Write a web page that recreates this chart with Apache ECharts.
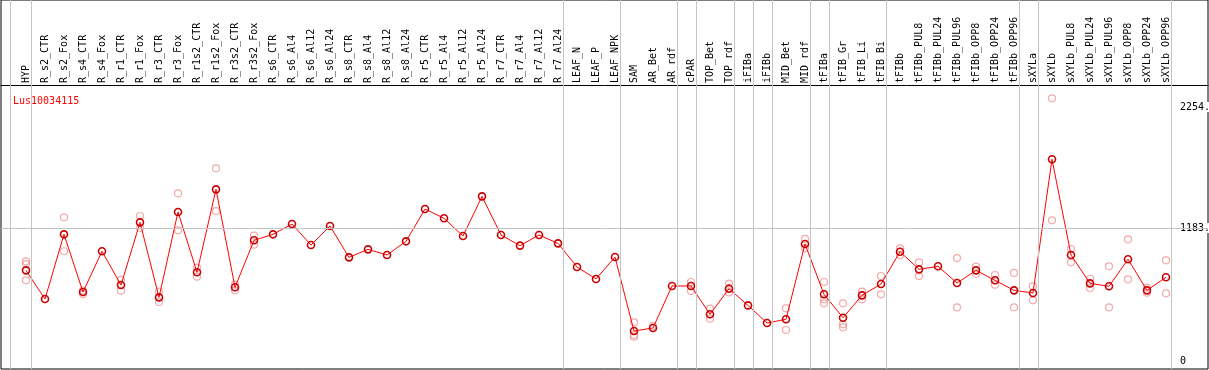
<!DOCTYPE html>
<html>
<head>
<meta charset="utf-8">
<script src="https://cdn.jsdelivr.net/npm/echarts@6/dist/echarts.min.js"></script>
<style>
html, body {margin:0; padding:0; background:#fff;}
#chart {width:1209px; height:370px;}
</style>
</head>
<body>
<div id="chart"></div>
<script>
var geneName = "Lus10034115";
var categories = ["HYP","R_s2_CTR","R_s2_Fox","R_s4_CTR","R_s4_Fox","R_r1_CTR","R_r1_Fox","R_r3_CTR","R_r3_Fox",
	"R_r1s2_CTR","R_r1s2_Fox","R_r3s2_CTR","R_r3s2_Fox","R_s6_CTR","R_s6_Al4","R_s6_Al12","R_s6_Al24",
	"R_s8_CTR","R_s8_Al4","R_s8_Al12","R_s8_Al24","R_r5_CTR","R_r5_Al4","R_r5_Al12","R_r5_Al24",
	"R_r7_CTR","R_r7_Al4","R_r7_Al12","R_r7_Al24","LEAF_N","LEAF_P","LEAF_NPK","SAM","AR_Bet","AR_rdf",
	"cPAR","TOP_Bet","TOP_rdf","iFIBa","iFIBb","MID_Bet","MID_rdf","tFIBa","tFIB_Gr","tFIB_Li","tFIB_Bi",
	"tFIBb","tFIBb_PUL8","tFIBb_PUL24","tFIBb_PUL96","tFIBb_OPP8","tFIBb_OPP24","tFIBb_OPP96",
	"sXYLa","sXYLb","sXYLb_PUL8","sXYLb_PUL24","sXYLb_PUL96","sXYLb_OPP8","sXYLb_OPP24","sXYLb_OPP96"];
// mean expression per sample
var meanValues = [808,554,1127,616,977,678,1233,569,1325,
	791,1525,658,1074,1127,1218,1032,1201,
	923,994,944,1065,1351,1269,1112,1463,
	1121,1027,1121,1047,838,732,926,271,298,670,
	670,419,646,498,342,375,1041,596,389,587,687,
	973,817,844,696,808,720,631,
	608,1791,944,693,667,906,631,747];
// replicates (null = hidden behind the mean)
var rep1 = [888,null,1278,598,null,723,1289,619,1490,
	832,1711,681,1115,null,null,null,null,
	null,null,null,null,null,null,null,null,
	null,null,null,null,null,null,null,348,315,null,
	705,469,690,null,null,472,1086,705,516,619,758,
	1003,879,null,917,841,767,785,
	667,2331,997,734,844,1083,655,897];
var rep2 = [864,null,977,630,null,628,1183,528,1162,
	752,1333,631,1035,null,null,null,null,
	null,null,null,null,null,null,null,null,
	null,null,null,null,null,null,null,221,null,null,
	625,380,613,null,null,280,1003,552,330,552,596,
	944,758,null,481,776,681,481,
	543,1251,879,652,481,729,610,605];
var rep3 = [720,null,null,null,null,null,null,null,null,
	null,null,null,null,null,null,null,null,
	null,null,null,null,null,null,null,null,
	null,null,null,null,null,null,null,236,null,null,
	null,null,null,null,null,null,null,516,304,null,null,
	null,null,null,null,null,null,null,
	null,null,null,null,null,null,null,null];
// group separators, in category units
var groupBreaks = [-0.83,0.25,28.25,31.25,34.25,35.25,37.25,38.25,39.25,41.25,42.25,45.25,52.25,53.25,60.25];
var yTickValues = [0,1183,2254];
var yTickLabels = ["0","1183.","2254."];
var refLine = 1183;

var chart = echarts.init(document.getElementById("chart"));
var font = "DejaVu Sans Mono";

function buildMean(){
	var d = [];
	for(var i=0;i<meanValues.length;i++){
		d.push([i, meanValues[i]]);
	}
	return d;
}
function buildReps(){
	var d = [];
	var all = [rep1, rep2, rep3];
	for(var r=0;r<all.length;r++){
		for(var i=0;i<all[r].length;i++){
			if(all[r][i] != null) d.push([i, all[r][i]]);
		}
	}
	return d;
}
var catIdx = [];
for(var i=0;i<categories.length;i++) catIdx.push(i);

var marks = [];
for(var i=0;i<groupBreaks.length;i++){
	marks.push({xAxis: groupBreaks[i]});
}
marks.push({yAxis: refLine});

var option = {
	animation: false,
	title: {
		text: geneName,
		left: 8,
		top: 91,
		textStyle: {color:'#ff0000', fontSize:10, fontWeight:'normal', fontFamily:font}
	},
	grid: {
		show: true,
		left: 1,
		right: 1,
		top: 0,
		bottom: 1,
		outerBoundsMode: 'none',
		containLabel: false,
		borderColor: '#000',
		borderWidth: 1,
		backgroundColor: 'transparent'
	},
	xAxis: {
		type: 'value',
		position: 'top',
		offset: -85,
		min: -1.316,
		max: 62.21,
		axisLine: {show:true, onZero:false, lineStyle:{color:'#000', width:1}},
		axisTick: {show:false},
		splitLine: {show:false},
		axisLabel: {
			customValues: catIdx,
			rotate: -90,
			margin: 2,
			fontSize: 10,
			fontFamily: font,
			color: '#000',
			formatter: function(v){ return categories[v]; }
		}
	},
	yAxis: {
		type: 'value',
		position: 'right',
		offset: -29,
		min: -65,
		max: 3201,
		axisLine: {show:false},
		axisTick: {show:false},
		splitLine: {show:false},
		axisLabel: {
			customValues: yTickValues,
			margin: 1,
			fontSize: 10,
			fontFamily: font,
			color: '#000',
			backgroundColor: '#fff',
			formatter: function(v){
				var k = yTickValues.indexOf(v);
				return k >= 0 ? yTickLabels[k] : '';
			}
		}
	},
	series: [
		{
			name: 'replicates',
			type: 'scatter',
			data: buildReps(),
			symbol: 'circle',
			symbolSize: 7,
			itemStyle: {color:'transparent', borderColor:'#f09494', borderWidth:1.2},
			z: 2,
			markLine: {
				silent: true,
				symbol: ['none','none'],
				label: {show:false},
				lineStyle: {color:'#c4c4c4', type:'solid', width:1},
				data: marks
			}
		},
		{
			name: 'mean',
			type: 'line',
			data: buildMean(),
			symbol: 'circle',
			symbolSize: 7,
			lineStyle: {color:'#ff0000', width:1},
			itemStyle: {color:'transparent', borderColor:'#c80000', borderWidth:1.6},
			z: 3
		}
	]
};
chart.setOption(option);
</script>
</body>
</html>
